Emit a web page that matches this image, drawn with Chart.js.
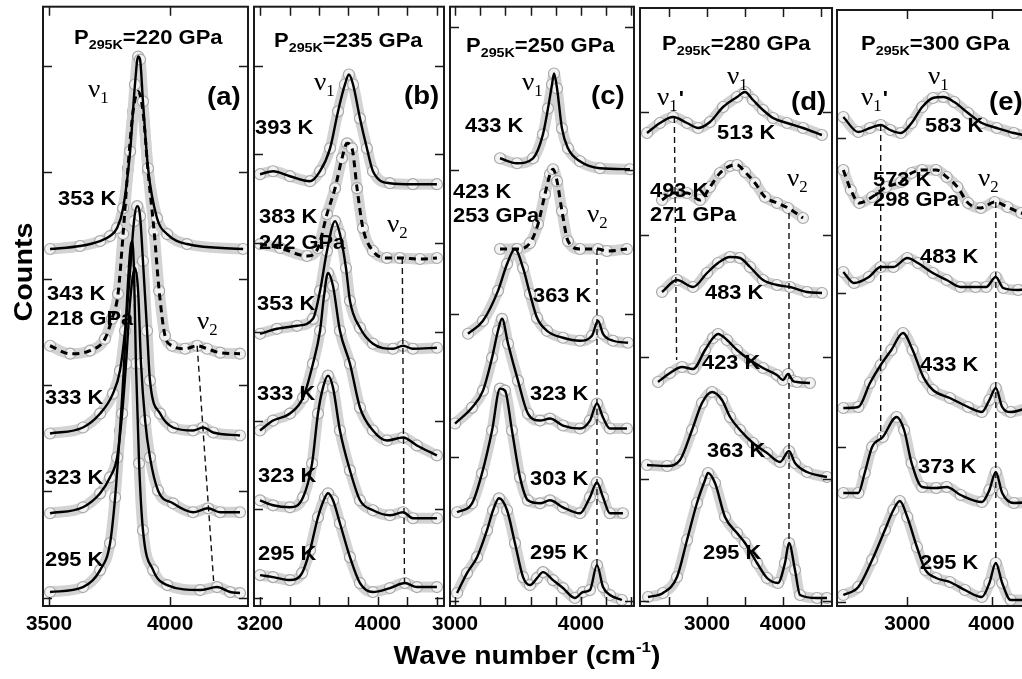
<!DOCTYPE html>
<html>
<head>
<meta charset="utf-8">
<script src="https://cdn.jsdelivr.net/npm/chart.js@4.4.0/dist/chart.umd.min.js"></script>
<style>
  html, body { margin: 0; padding: 0; background: #fff; overflow: hidden; width: 1022px; height: 679px; }
  canvas { position: absolute; left: 0; top: 0; }
</style>
</head>
<body>
<canvas id="pa" width="1022" height="679"></canvas>
<canvas id="pb" width="1022" height="679"></canvas>
<canvas id="pc" width="1022" height="679"></canvas>
<canvas id="pd" width="1022" height="679"></canvas>
<canvas id="pe" width="1060" height="679"></canvas>
<script>
// spectra: [wave number (cm-1), counts (offset, arb.)]
// panel (a) P295K = 220 GPa
const a_353 = [[3504,358],[3628,361],[3711,366],[3752,371],[3781,379],[3806,399],[3835,456],[3855,523],[3868,551],[3876,548],[3888,506],[3909,439],[3946,389],[3988,373],[4070,363],[4302,358]];
const a_343 = [[3504,261],[3587,253],[3669,256],[3731,268],[3760,288],[3785,313],[3806,373],[3826,439],[3847,496],[3868,516],[3888,496],[3909,436],[3934,376],[3955,316],[3979,271],[4008,261],[4062,258],[4112,261],[4153,258],[4207,254],[4289,253]];
const a_333 = [[3504,173],[3640,179],[3711,193],[3764,213],[3793,236],[3814,276],[3835,336],[3851,386],[3864,401],[3876,391],[3888,346],[3905,276],[3917,226],[3959,193],[4012,179],[4095,176],[4136,179],[4178,174],[4289,171]];
const a_323 = [[3504,93],[3640,99],[3711,113],[3752,129],[3781,149],[3802,193],[3818,243],[3835,306],[3855,339],[3868,316],[3880,243],[3897,186],[3917,149],[3950,116],[4012,103],[4095,94],[4157,98],[4207,94],[4289,94]];
const a_295 = [[3504,14],[3640,19],[3711,36],[3752,63],[3773,109],[3793,176],[3810,243],[3822,306],[3835,356],[3843,366],[3851,336],[3859,243],[3872,143],[3888,76],[3930,36],[3988,21],[4124,16],[4194,19],[4248,14],[4289,13]];
const a_nu2 = [[4112,261],[4180,25]];

// panel (b) P295K = 235 GPa
const b_393 = [[3200,433],[3288,436],[3403,431],[3539,426],[3607,436],[3675,459],[3729,496],[3776,523],[3803,533],[3831,523],[3878,489],[3925,459],[3966,436],[4081,424],[4237,423],[4400,423]];
const b_383 = [[3200,363],[3336,359],[3519,351],[3593,359],[3654,393],[3709,419],[3756,449],[3790,464],[3824,459],[3858,419],[3898,379],[3966,356],[4061,349],[4149,349],[4285,348],[4400,349]];
const b_353 = [[3200,273],[3315,278],[3451,281],[3559,288],[3607,316],[3654,356],[3709,386],[3742,373],[3783,339],[3810,306],[3878,279],[3966,263],[4102,258],[4170,261],[4237,258],[4400,259]];
const b_333 = [[3200,176],[3288,186],[3403,193],[3492,209],[3559,243],[3607,276],[3634,311],[3661,334],[3695,321],[3742,276],[3810,243],[3878,199],[3966,176],[4061,166],[4170,169],[4264,161],[4400,151]];
const b_323 = [[3200,106],[3288,101],[3403,99],[3492,109],[3553,143],[3593,193],[3627,219],[3661,231],[3695,219],[3742,176],[3810,136],[3878,106],[3966,96],[4081,91],[4170,94],[4237,88],[4400,88]];
const b_295 = [[3200,31],[3288,29],[3403,26],[3485,33],[3539,56],[3593,89],[3641,109],[3661,113],[3695,106],[3742,83],[3810,49],[3878,23],[3966,14],[4081,18],[4183,23],[4264,19],[4400,19]];
const b_nu2 = [[4165,349],[4180,23]];

// panel (c) P295K = 250 GPa
const c_433 = [[3357,449],[3492,444],[3619,449],[3698,473],[3738,499],[3770,523],[3786,534],[3810,519],[3849,479],[3897,459],[3992,446],[4151,439],[4389,438]];
const c_423 = [[3357,358],[3492,358],[3595,364],[3659,383],[3714,413],[3754,433],[3778,438],[3810,426],[3849,396],[3897,366],[3992,358],[4135,358],[4206,356],[4365,358]];
const c_363 = [[3103,273],[3222,286],[3341,316],[3413,343],[3476,358],[3540,339],[3595,313],[3651,289],[3730,276],[3857,269],[3992,266],[4087,271],[4135,286],[4175,273],[4254,266],[4373,264]];
const c_323 = [[3000,183],[3135,199],[3222,216],[3294,249],[3341,276],[3373,288],[3421,263],[3500,226],[3579,193],[3675,186],[3754,188],[3857,181],[3992,178],[4071,186],[4127,203],[4175,189],[4230,178],[4365,178]];
const c_303 = [[3016,94],[3135,103],[3214,133],[3294,176],[3357,218],[3397,216],[3452,176],[3516,129],[3579,106],[3675,103],[3754,106],[3857,99],[3992,93],[4071,109],[4127,124],[4175,109],[4230,93],[4333,93]];
const c_295 = [[3016,13],[3095,33],[3175,49],[3254,76],[3302,96],[3349,108],[3413,96],[3476,63],[3540,29],[3595,21],[3651,28],[3698,34],[3778,26],[3857,18],[3952,8],[4016,14],[4071,16],[4127,41],[4175,19],[4230,11],[4325,6]];
const c_nu2 = [[4127,358],[4127,41]];

// panel (d) P295K = 280 GPa
const d_513 = [[2210,473],[2381,483],[2553,489],[2737,483],[2882,478],[3039,484],[3211,499],[3395,509],[3500,514],[3605,506],[3737,496],[3869,488],[4053,483],[4263,478],[4513,471]];
const d_493 = [[2408,406],[2553,413],[2737,413],[2908,406],[3039,419],[3171,433],[3303,440],[3395,441],[3500,434],[3632,423],[3763,409],[3921,403],[4066,398],[4263,388]];
const d_483 = [[2408,314],[2605,326],[2816,319],[3000,333],[3145,343],[3303,349],[3434,348],[3566,339],[3737,326],[3921,321],[4092,319],[4316,314],[4513,313]];
const d_423 = [[2355,224],[2513,233],[2671,239],[2816,237],[2974,256],[3079,268],[3145,272],[3263,266],[3395,256],[3566,246],[3737,238],[3921,231],[4000,226],[4066,232],[4132,225],[4184,224],[4355,223]];
const d_363 = [[2210,141],[2474,140],[2645,146],[2803,176],[2934,203],[3066,214],[3197,206],[3303,189],[3434,176],[3605,163],[3790,153],[3961,144],[4079,155],[4158,143],[4316,134],[4579,129]];
const d_295 = [[2224,9],[2421,13],[2605,29],[2737,66],[2868,103],[2974,126],[3013,133],[3105,123],[3237,89],[3395,73],[3500,63],[3658,43],[3790,28],[3934,23],[4026,43],[4079,63],[4158,36],[4224,11],[4448,8],[4579,8]];
const d_nu1p = [[2570,489],[2600,246]];
const d_nu2 = [[4079,393],[4079,63]];

// panel (e) P295K = 300 GPa
const e_583 = [[2240,489],[2418,474],[2557,478],[2684,481],[2797,476],[2924,473],[3051,483],[3177,499],[3304,508],[3430,509],[3557,504],[3722,493],[3886,483],[4063,478],[4266,473],[4507,469],[4734,467]];
const e_573 = [[2240,436],[2329,416],[2430,403],[2582,409],[2747,419],[2924,424],[3051,433],[3177,436],[3342,436],[3468,429],[3595,419],[3722,403],[3874,398],[4038,404],[4190,399],[4355,393],[4507,391],[4734,389]];
const e_483 = [[2240,334],[2367,323],[2544,329],[2684,339],[2835,339],[3000,348],[3127,343],[3304,333],[3468,326],[3633,319],[3810,319],[3937,319],[4051,329],[4139,318],[4317,316],[4507,318],[4734,318]];
const e_433 = [[2240,198],[2418,199],[2557,223],[2684,241],[2810,256],[2949,273],[3063,256],[3190,229],[3304,216],[3506,208],[3722,199],[3886,194],[3975,206],[4051,218],[4127,199],[4228,194],[4507,199],[4734,199]];
const e_373 = [[2240,113],[2418,113],[2494,133],[2582,159],[2709,169],[2873,189],[2962,176],[3051,143],[3177,119],[3342,118],[3468,119],[3633,111],[3886,104],[3975,116],[4051,134],[4127,113],[4266,103],[4507,104],[4734,104]];
const e_295 = [[2240,11],[2418,19],[2582,46],[2734,76],[2835,96],[2911,105],[3000,89],[3114,59],[3215,36],[3342,28],[3506,24],[3684,16],[3886,9],[3975,23],[4051,43],[4127,23],[4228,6],[4507,6],[4734,6]];
const e_nu1p = [[2684,481],[2684,166]];
const e_nu2 = [[4051,404],[4051,43]];

// axes
const a_xticks = [3500, 4000], a_xlabels = [3500, 4000], a_yticks = [8, 115, 222, 328, 435, 542];
const b_xticks = [3200, 3400, 3600, 3800, 4000, 4200, 4400], b_xlabels = [3200, 4000], b_yticks = [8, 97, 186, 275, 364, 453, 542];
const c_xticks = [3000, 3200, 3400, 3600, 3800, 4000, 4200, 4400], c_xlabels = [3000, 4000], c_yticks = [5, 149, 293, 437, 581];
const d_xticks = [2500, 3000, 3500, 4000, 4500], d_xlabels = [3000, 4000], d_yticks = [5, 127, 249, 371, 494];
const e_xticks = [3000, 4000], e_xlabels = [3000, 4000], e_yticks = [4, 159, 313, 468];

const SANS = '"Liberation Sans", Arial, sans-serif';
const SERIF = '"Liberation Serif", "Times New Roman", serif';

// label: [kind, text, dx, dy] relative to the panel's top-left corner
const panels = [
  { id: 'pa', box: [43, 5, 248, 606], xr: [3475, 4322], yMax: 601, xticks: a_xticks, xlabels: a_xlabels, yticks: a_yticks,
    spectra: [[a_353, false], [a_343, true], [a_333, false], [a_323, false], [a_295, false]], guides: [a_nu2],
    labels: [['title', '220', 31, 37], ['nu', '1', 45, 90], ['tag', '(a)', 164, 91],
      ['bold', '353 K', 15, 193], ['bold', '343 K', 4, 288], ['bold', '218 GPa', 4, 313], ['nu', '2', 154, 322],
      ['bold', '333 K', 2, 392], ['bold', '323 K', 2, 472], ['bold', '295 K', 2, 554]] },
  { id: 'pb', box: [254, 5, 444, 606], xr: [3159, 4448], yMax: 601, xticks: b_xticks, xlabels: b_xlabels, yticks: b_yticks,
    spectra: [[b_393, false], [b_383, true], [b_353, false], [b_333, false], [b_323, false], [b_295, false]], guides: [b_nu2],
    labels: [['title', '235', 20, 40], ['nu', '1', 60, 83], ['tag', '(b)', 150, 90],
      ['bold', '393 K', 1, 122], ['bold', '383 K', 5, 211], ['bold', '242 GPa', 5, 237], ['nu', '2', 133, 225],
      ['bold', '353 K', 3, 298], ['bold', '333 K', 3, 388], ['bold', '323 K', 4, 470], ['bold', '295 K', 4, 548]] },
  { id: 'pc', box: [450, 5, 634, 606], xr: [2960, 4421], yMax: 601, xticks: c_xticks, xlabels: c_xlabels, yticks: c_yticks,
    spectra: [[c_433, false], [c_423, true], [c_363, false], [c_323, false], [c_303, false], [c_295, false]], guides: [c_nu2],
    labels: [['title', '250', 16, 45], ['nu', '1', 72, 83], ['tag', '(c)', 141, 90],
      ['bold', '433 K', 15, 120], ['bold', '423 K', 3, 186], ['bold', '253 GPa', 3, 210], ['nu', '2', 137, 215],
      ['bold', '363 K', 83, 290], ['bold', '323 K', 80, 388], ['bold', '303 K', 80, 473], ['bold', '295 K', 80, 547]] },
  { id: 'pd', box: [640, 8, 832, 606], xr: [2118, 4645], yMax: 598, xticks: d_xticks, xlabels: d_xlabels, yticks: d_yticks,
    spectra: [[d_513, false], [d_493, true], [d_483, false], [d_423, false], [d_363, false], [d_295, false]], guides: [d_nu1p, d_nu2],
    labels: [['title', '280', 22, 42], ['nu', '1', 87, 76], ['nup', '1', 17, 97], ['tag', '(d)', 151, 95],
      ['bold', '513 K', 77, 125], ['bold', '493 K', 10, 183], ['bold', '271 GPa', 10, 207], ['nu', '2', 147, 178],
      ['bold', '483 K', 65, 285], ['bold', '423 K', 62, 355], ['bold', '363 K', 67, 443], ['bold', '295 K', 63, 545]] },
  { id: 'pe', box: [837, 10, 1060, 606], xr: [2165, 4734], yMax: 596, xticks: e_xticks, xlabels: e_xlabels, yticks: e_yticks,
    spectra: [[e_583, false], [e_573, true], [e_483, false], [e_433, false], [e_373, false], [e_295, false]], guides: [e_nu1p, e_nu2],
    labels: [['title', '300', 24, 40], ['nu', '1', 91, 74], ['nup', '1', 24, 95], ['tag', '(e)', 152, 93],
      ['bold', '583 K', 88, 116], ['bold', '573 K', 36, 170], ['bold', '298 GPa', 36, 190], ['nu', '2', 141, 176],
      ['bold', '483 K', 83, 247], ['bold', '433 K', 83, 355], ['bold', '373 K', 81, 457], ['bold', '295 K', 83, 553]] }
];

// draw text stretched horizontally by sx, returns drawn width
function sText(ctx, s, x, y, font, sx, align) {
  ctx.save();
  ctx.font = font;
  const w = ctx.measureText(s).width * sx;
  const x0 = align === 'center' ? x - w / 2 : x;
  ctx.translate(x0, y);
  ctx.scale(sx, 1);
  ctx.fillText(s, 0, 0);
  ctx.restore();
  return w;
}

function drawLabel(ctx, lab, x, y) {
  const [kind, text] = lab;
  ctx.fillStyle = '#000';
  if (kind === 'bold') {
    ctx.textBaseline = 'middle';
    sText(ctx, text, x, y, 'bold 21px ' + SANS, 1.04);
  } else if (kind === 'tag') {
    ctx.textBaseline = 'middle';
    sText(ctx, text, x, y, 'bold 25px ' + SANS, 1.1);
  } else if (kind === 'title') {
    ctx.textBaseline = 'alphabetic';
    let w = sText(ctx, 'P', x, y, 'bold 20px ' + SANS, 1.1);
    w += sText(ctx, '295K', x + w, y + 5, 'bold 13px ' + SANS, 1.1);
    sText(ctx, '=' + text + ' GPa', x + w, y, 'bold 20px ' + SANS, 1.1);
  } else {
    ctx.textBaseline = 'alphabetic';
    let w = sText(ctx, '\u03bd', x, y, '26px ' + SERIF, 1.05);
    w += sText(ctx, text, x + w, y + 6, '16px ' + SERIF, 1.05);
    if (kind === 'nup') sText(ctx, "'", x + w + 1, y, 'bold 20px ' + SANS, 1.1);
  }
}

function framePlugin(p) {
  return {
    id: 'frame' + p.id,
    afterDatasetsDraw(chart) {
      const ctx = chart.ctx, a = chart.chartArea, xs = chart.scales.x, ys = chart.scales.y;
      ctx.save();
      ctx.strokeStyle = '#1a1a1a';
      ctx.lineWidth = 2;
      ctx.strokeRect(a.left, a.top, a.right - a.left, a.bottom - a.top);
      ctx.lineWidth = 1.5;
      ctx.beginPath();
      p.xticks.forEach(v => {
        const px = Math.round(xs.getPixelForValue(v)) + 0.5;
        ctx.moveTo(px, a.bottom); ctx.lineTo(px, a.bottom - 9);
        ctx.moveTo(px, a.top); ctx.lineTo(px, a.top + 9);
      });
      p.yticks.forEach(v => {
        const py = Math.round(ys.getPixelForValue(v)) + 0.5;
        ctx.moveTo(a.left, py); ctx.lineTo(a.left + 9, py);
        ctx.moveTo(a.right, py); ctx.lineTo(a.right - 9, py);
      });
      ctx.stroke();
      ctx.fillStyle = '#000';
      ctx.textBaseline = 'middle';
      p.xlabels.forEach(v => sText(ctx, String(v), xs.getPixelForValue(v), a.bottom + 18, 'bold 20px ' + SANS, 1.04, 'center'));
      p.labels.forEach(l => drawLabel(ctx, l, a.left + l[2], a.top + l[3]));
      if (p.id === 'pa') {
        ctx.save();
        ctx.translate(25, 272);
        ctx.rotate(-Math.PI / 2);
        ctx.textBaseline = 'middle';
        sText(ctx, 'Counts', 0, 0, 'bold 25px ' + SANS, 1.15, 'center');
        ctx.restore();
        ctx.textBaseline = 'alphabetic';
        const f = 'bold 25px ' + SANS;
        ctx.font = f;
        const w1 = ctx.measureText('Wave number (cm').width * 1.13;
        ctx.font = 'bold 15px ' + SANS;
        const w2 = ctx.measureText('-1').width * 1.13;
        ctx.font = f;
        const w3 = ctx.measureText(')').width * 1.13;
        let x = 527 - (w1 + w2 + w3) / 2;
        x += sText(ctx, 'Wave number (cm', x, 664, f, 1.13);
        x += sText(ctx, '-1', x, 652, 'bold 15px ' + SANS, 1.13);
        sText(ctx, ')', x, 664, f, 1.13);
      }
      ctx.restore();
    }
  };
}

panels.forEach(p => {
  const datasets = [];
  p.spectra.forEach(([pts, dashed]) => {
    const data = pts.map(([x, y]) => ({ x, y }));
    datasets.push({ data, order: 3, borderColor: '#d3d3d3', borderWidth: 11, pointRadius: 5.5,
      pointBorderColor: '#a9a9a9', pointBackgroundColor: '#f2f2f2', pointBorderWidth: 1.2, cubicInterpolationMode: 'monotone' });
    datasets.push({ data, order: 1, borderColor: '#000', borderWidth: dashed ? 3 : 2.4, borderDash: dashed ? [7, 5] : [],
      pointRadius: 0, cubicInterpolationMode: 'monotone' });
  });
  p.guides.forEach(g => datasets.push({ data: g.map(([x, y]) => ({ x, y })), order: 2, borderColor: '#111',
    borderWidth: 1.4, borderDash: [6, 4], pointRadius: 0 }));
  const cv = document.getElementById(p.id);
  new Chart(cv, {
    type: 'line',
    data: { datasets },
    options: {
      responsive: false, animation: false, events: [],
      layout: { padding: { left: p.box[0], top: p.box[1], right: cv.width - p.box[2], bottom: cv.height - p.box[3] } },
      plugins: { legend: { display: false }, tooltip: { enabled: false } },
      scales: {
        x: { type: 'linear', min: p.xr[0], max: p.xr[1], display: false },
        y: { type: 'linear', min: 0, max: p.yMax, display: false }
      }
    },
    plugins: [framePlugin(p)]
  });
});
</script>
</body>
</html>
